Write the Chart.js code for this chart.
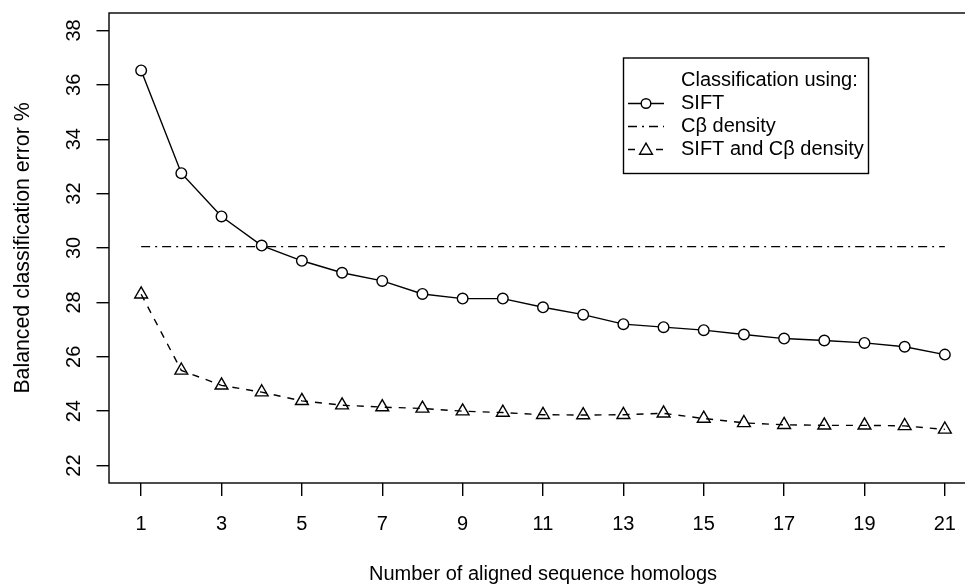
<!DOCTYPE html>
<html>
<head>
<meta charset="utf-8">
<script src="https://cdn.jsdelivr.net/npm/chart.js@4/dist/chart.umd.min.js"></script>
<style>
  html, body { margin: 0; padding: 0; background: #fff; overflow: hidden; }
  #wrap { width: 965px; height: 585px; overflow: hidden; }
</style>
</head>
<body>
<div id="wrap"><canvas id="chart" width="990" height="585"></canvas></div>
<script>
// --- data ---
const homologs = [1, 2, 3, 4, 5, 6, 7, 8, 9, 10, 11, 12, 13, 14, 15, 16, 17, 18, 19, 20, 21];
const siftError = [36.53, 32.75, 31.16, 30.09, 29.53, 29.09, 28.79, 28.31, 28.14, 28.14, 27.82,
                   27.55, 27.2, 27.09, 26.98, 26.82, 26.67, 26.6, 26.51, 26.37, 26.08];
const combinedError = [28.3, 25.5, 24.95, 24.7, 24.38, 24.22, 24.15, 24.1, 24.0, 23.95, 23.87,
                       23.86, 23.87, 23.92, 23.73, 23.57, 23.5, 23.48, 23.48, 23.46, 23.33];
const cbetaX = [1, 21];
const cbetaError = [30.05, 30.05];

const xTicks = [1, 3, 5, 7, 9, 11, 13, 15, 17, 19, 21];
const yTicks = [22, 24, 26, 28, 30, 32, 34, 36, 38];

const legendTitle = 'Classification using:';
const seriesNames = ['SIFT', 'C\u03B2 density', 'SIFT and C\u03B2 density'];
const xTitle = 'Number of aligned sequence homologs';
const yTitle = 'Balanced classification error %';

const FONT = "'Liberation Sans', Arial, Helvetica, sans-serif";
const LW = 1.4;
const CIRCLE_R = 5.3, TRI_R = 7.4;

const pts = (xs, ys) => xs.map((x, i) => ({ x, y: ys[i] }));

// R style frame, rotated y labels, titles and legend
const rStyle = {
    id: 'rStyle',
    afterDraw(chart) {
        const ctx = chart.ctx, a = chart.chartArea;
        const ys = chart.scales.y;
        ctx.save();
        ctx.strokeStyle = '#000';
        ctx.lineWidth = LW;
        ctx.strokeRect(a.left, a.top, a.right - a.left, a.bottom - a.top);

        ctx.fillStyle = '#000';
        ctx.font = '20px ' + FONT;
        ctx.textAlign = 'center';
        ctx.textBaseline = 'alphabetic';
        yTicks.forEach(v => {
            ctx.save();
            ctx.translate(80, ys.getPixelForValue(v));
            ctx.rotate(-Math.PI / 2);
            ctx.fillText(String(v), 0, 0);
            ctx.restore();
        });

        ctx.fillText(xTitle, (a.left + a.right) / 2, 579.5);

        ctx.save();
        ctx.font = '21.3px ' + FONT;
        ctx.translate(28.5, (a.top + a.bottom) / 2);
        ctx.rotate(-Math.PI / 2);
        ctx.fillText(yTitle, 0, 0);
        ctx.restore();

        // legend
        const lx = 623.5, ly = 58, lw = 245, lh = 115.5;
        ctx.fillStyle = '#fff';
        ctx.fillRect(lx, ly, lw, lh);
        ctx.strokeRect(lx, ly, lw, lh);
        ctx.fillStyle = '#000';
        ctx.textAlign = 'left';
        ctx.textBaseline = 'middle';
        const tx = 681, rows = [80, 103.5, 126.5, 149.5];
        ctx.fillText(legendTitle, tx, rows[0]);
        const dashes = [[], [9, 5, 2, 5], [7, 7]];
        const styles = ['circle', false, 'triangle'];
        seriesNames.forEach((name, i) => {
            const y = rows[i + 1];
            ctx.setLineDash(dashes[i]);
            ctx.beginPath();
            ctx.moveTo(628, y);
            ctx.lineTo(664, y);
            ctx.stroke();
            ctx.setLineDash([]);
            ctx.fillStyle = '#fff';
            if (styles[i] === 'circle') {
                ctx.beginPath();
                ctx.arc(646, y, CIRCLE_R - 0.5, 0, Math.PI * 2);
                ctx.fill();
                ctx.stroke();
            } else if (styles[i] === 'triangle') {
                Chart.helpers.drawPoint(ctx, { pointStyle: 'triangle', radius: TRI_R, rotation: 0, borderWidth: LW }, 646, y + 1);
            }
            ctx.fillStyle = '#000';
            ctx.fillText(name, tx, y);
        });
        ctx.restore();
    }
};

const gridOpts = (len) => ({ drawOnChartArea: false, drawTicks: true, tickLength: len, color: '#000', lineWidth: LW });

new Chart(document.getElementById('chart'), {
    type: 'line',
    data: {
        datasets: [
            { label: seriesNames[0], data: pts(homologs, siftError), borderColor: '#000', borderWidth: LW,
              pointStyle: 'circle', pointRadius: CIRCLE_R, pointBackgroundColor: '#fff', pointBorderColor: '#000', pointBorderWidth: LW, tension: 0 },
            { label: seriesNames[1], data: pts(cbetaX, cbetaError), borderColor: '#000', borderWidth: LW,
              borderDash: [9, 5, 2, 5], pointRadius: 0, tension: 0 },
            { label: seriesNames[2], data: pts(homologs, combinedError), borderColor: '#000', borderWidth: LW,
              borderDash: [7, 7], pointStyle: 'triangle', pointRadius: TRI_R, pointBackgroundColor: 'rgba(0,0,0,0)',
              pointBorderColor: '#000', pointBorderWidth: LW, tension: 0 }
        ]
    },
    options: {
        responsive: false,
        animation: false,
        devicePixelRatio: 1,
        layout: { padding: { top: 13, right: 13, left: 0, bottom: 0 } },
        plugins: { legend: { display: false }, tooltip: { enabled: false } },
        scales: {
            x: {
                type: 'linear', min: 0.2, max: 21.8,
                afterBuildTicks: s => { s.ticks = xTicks.map(v => ({ value: v })); },
                afterFit: s => { s.height = 102; },
                ticks: { color: '#000', font: { size: 20, family: FONT }, padding: 16, maxRotation: 0, autoSkip: false },
                grid: gridOpts(13),
                border: { display: false }
            },
            y: {
                type: 'linear', min: 21.36, max: 38.64,
                afterBuildTicks: s => { s.ticks = yTicks.map(v => ({ value: v })); },
                afterFit: s => { s.width = 109; },
                ticks: { display: false },
                grid: gridOpts(12.5),
                border: { display: false }
            }
        }
    },
    plugins: [rStyle]
});
</script>
</body>
</html>
